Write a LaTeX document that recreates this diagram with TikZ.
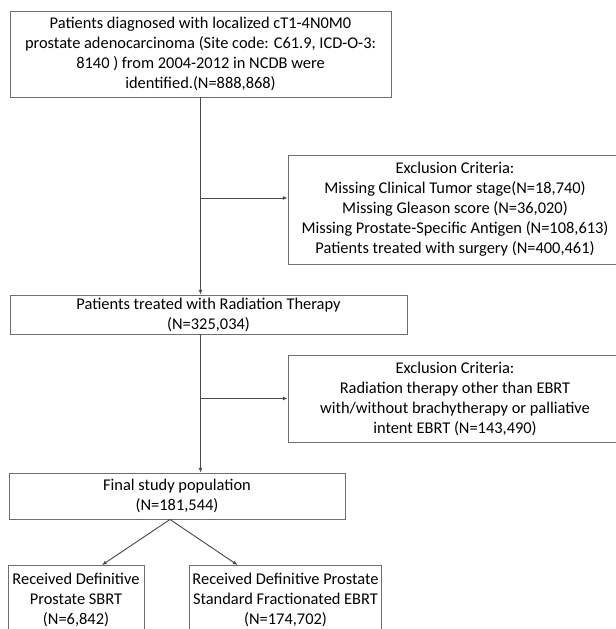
\documentclass[tikz,border=0pt]{standalone}
\usepackage{fontspec}
\setmainfont{Carlito}
\usepackage{xcolor}
\usetikzlibrary{arrows.meta,positioning,calc}
\definecolor{boxborder}{HTML}{6E6E6E}
\definecolor{flowline}{HTML}{4A4A4A}

\begin{document}
\begin{tikzpicture}[x=0.75pt,y=-0.75pt,>={Latex[length=3.5pt,width=3pt]}]
\tikzstyle{stage}=[draw=boxborder,line width=0.7pt,align=center,inner sep=2pt,font=\fontsize{12.3}{15}\selectfont]
\tikzstyle{flow}=[->,draw=flowline,line width=0.7pt]
\useasboundingbox (0,0) rectangle (616,629);
\clip (0,0) rectangle (616,629);
\node[stage,minimum width=285.75pt,minimum height=64.5pt] (cohort) at (200.5,54) {Patients diagnosed with localized cT1-4N0M0\\prostate adenocarcinoma (Site code: C61.9, ICD-O-3:\\8140 ) from 2004-2012 in NCDB were\\identified.(N=888,868)};
\node[stage,minimum width=250.5pt,minimum height=81.75pt] (exclone) at (455,209.5) {Exclusion Criteria:\\Missing Clinical Tumor stage(N=18,740)\\Missing Gleason score (N=36,020)\\Missing Prostate-Specific Antigen (N=108,613)\\Patients treated with surgery (N=400,461)};
\node[stage,minimum width=297.75pt,minimum height=29.25pt] (radiation) at (208.5,314.5) {Patients treated with Radiation Therapy\\(N=325,034)};
\node[stage,minimum width=250.5pt,minimum height=65.25pt] (excltwo) at (455,398.5) {Exclusion Criteria:\\Radiation therapy other than EBRT\\with/without brachytherapy or palliative\\intent EBRT (N=143,490)};
\node[stage,minimum width=252pt,minimum height=34.5pt] (final) at (177,496) {Final study population\\(N=181,544)};
\node[stage,minimum width=102pt,minimum height=51.5pt,inner ysep=3pt,anchor=north] (sbrt) at (76,565) {Received Definitive\\Prostate SBRT\\(N=6,842)};
\node[stage,minimum width=138.75pt,minimum height=51.5pt,inner ysep=3pt,anchor=north] (ebrt) at (285.5,565) {Received Definitive Prostate\\Standard Fractionated EBRT\\(N=174,702)};
\coordinate (jone) at (cohort.south |- 0,198);
\coordinate (jtwo) at (cohort.south |- excltwo.west);
\coordinate (split) at ($(final.south)+(-7,0)$);
\draw[flow] (cohort.south) -- (cohort.south |- radiation.north);
\draw[flow] (jone) -- (jone -| exclone.west);
\draw[flow] (cohort.south |- radiation.south) -- (cohort.south |- final.north);
\draw[flow] (jtwo) -- (excltwo.west);
\draw[flow] (split) -- ($(sbrt.north)+(26,0)$);
\draw[flow] (split) -- ($(ebrt.north)+(-48,0)$);
\end{tikzpicture}
\end{document}
